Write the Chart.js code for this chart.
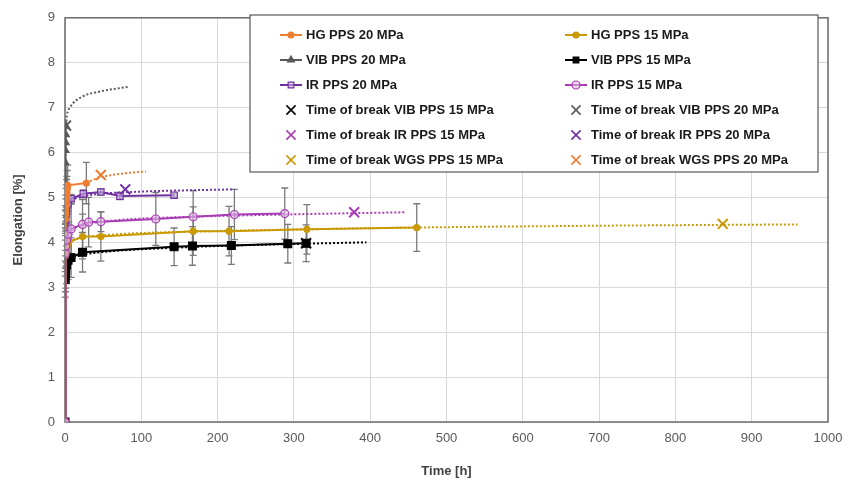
<!DOCTYPE html>
<html>
<head>
<meta charset="utf-8">
<script src="https://cdn.jsdelivr.net/npm/chart.js@4.4.1/dist/chart.umd.min.js"></script>
<style>
  html, body { margin: 0; padding: 0; background: #fff; }
  #wrap { width: 858px; height: 480px; }
</style>
</head>
<body>
<div id="wrap"><canvas id="chart" width="858" height="480"></canvas></div>
<script>
// Elongation over time, PPS creep tests

// HG PPS 20 MPa
const hg20Time = [0, 0.5, 0.7, 1, 1.2, 1.5, 1.8, 2.2, 2.6, 3, 3.5, 28];
const hg20Elong = [0, 4.52, 4.62, 4.72, 4.8, 4.9, 4.98, 5.05, 5.12, 5.2, 5.27, 5.32];
const hg20Err = [0, 0.2, 0.2, 0.25, 0.25, 0.3, 0.3, 0.35, 0.35, 0.4, 0.45, 0.46];

// HG PPS 15 MPa
const hg15Time = [0, 0.5, 1, 2, 3, 5, 23, 47, 168, 215, 317, 461];
const hg15Elong = [0, 3.7, 3.8, 3.88, 3.94, 4.0, 4.13, 4.13, 4.25, 4.25, 4.29, 4.33];
const hg15Err = [0, 0.35, 0.35, 0.4, 0.4, 0.45, 0.5, 0.55, 0.54, 0.55, 0.55, 0.53];

// VIB PPS 20 MPa
const vib20Time = [0, 0.3, 0.6, 0.9, 1.1, 1.3];
const vib20Elong = [0, 5.78, 6.05, 6.22, 6.4, 6.59];
const vib20Err = [0, 0, 0, 0, 0, 0];

// VIB PPS 15 MPa
const vib15Time = [0, 0.3, 0.6, 1, 2, 4, 8, 23, 143, 167, 218, 292, 316];
const vib15Elong = [0, 3.18, 3.3, 3.4, 3.5, 3.6, 3.66, 3.78, 3.9, 3.92, 3.93, 3.97, 3.98];
const vib15Err = [0, 0.4, 0.4, 0.42, 0.42, 0.43, 0.44, 0.44, 0.42, 0.43, 0.42, 0.43, 0.41];

// IR PPS 20 MPa
const ir20Time = [0, 0.5, 1, 2, 4, 8, 24, 47, 72, 143];
const ir20Elong = [0, 4.3, 4.5, 4.68, 4.86, 4.97, 5.08, 5.12, 5.03, 5.05];
const ir20Err = [0, 0.1, 0.1, 0.1, 0.1, 0.1, 0.09, 0.07, 0.08, 0.05];

// IR PPS 15 MPa
const ir15Time = [0, 0.5, 1, 2, 4, 8, 23, 31, 47, 119, 168, 222, 288];
const ir15Elong = [0, 3.75, 3.92, 4.05, 4.18, 4.3, 4.4, 4.45, 4.46, 4.52, 4.57, 4.62, 4.64];
const ir15Err = [0, 0.5, 0.5, 0.5, 0.52, 0.55, 0.55, 0.55, 0.22, 0.59, 0.58, 0.56, 0.57];

// dotted trend lines
const hg20TrendTime = [28, 47, 75, 106];
const hg20TrendElong = [5.33, 5.45, 5.53, 5.58];
const hg15TrendTime = [0.5, 2, 8, 23, 60, 168, 317, 461, 700, 960];
const hg15TrendElong = [3.75, 3.9, 4.02, 4.1, 4.17, 4.24, 4.29, 4.33, 4.37, 4.4];
const vib20TrendTime = [1.3, 2.5, 6.5, 20, 46, 82];
const vib20TrendElong = [6.6, 6.82, 7.0, 7.22, 7.36, 7.46];
const vib15TrendTime = [0.5, 2, 8, 23, 60, 143, 220, 316, 395];
const vib15TrendElong = [3.2, 3.45, 3.62, 3.72, 3.8, 3.88, 3.93, 3.97, 4.0];
const ir20TrendTime = [1, 3, 8, 23, 47, 100, 222];
const ir20TrendElong = [4.5, 4.75, 4.9, 5.02, 5.08, 5.13, 5.18];
const ir15TrendTime = [0.5, 2, 8, 23, 60, 168, 288, 446];
const ir15TrendElong = [3.6, 4.0, 4.25, 4.38, 4.48, 4.57, 4.62, 4.67];

// time of break [h, %]
const breakVib15 = [316, 3.98];
const breakVib20 = [1.3, 6.6];
const breakIr15 = [379, 4.67];
const breakIr20 = [79, 5.18];
const breakWgs15 = [862, 4.41];
const breakWgs20 = [47, 5.5];

// legend, two columns, row by row
const legendOrder = [
  'HG PPS 20 MPa', 'HG PPS 15 MPa',
  'VIB PPS 20 MPa', 'VIB PPS 15 MPa',
  'IR PPS 20 MPa', 'IR PPS 15 MPa',
  'Time of break VIB PPS 15 MPa', 'Time of break VIB PPS 20 MPa',
  'Time of break IR PPS 15 MPa', 'Time of break IR PPS 20 MPa',
  'Time of break WGS PPS 15 MPa', 'Time of break WGS PPS 20 MPa'
];

const C_ORANGE = '#ED7D31';
const C_GOLD = '#C99A06';
const C_GRAY = '#595959';
const C_BLACK = '#000000';
const C_PURPLE = '#7030A0';
const C_MAGENTA = '#A83DB5';

const FONT = 'Liberation Sans, Arial, sans-serif';

const toPoints = (xs, ys) => xs.map((x, i) => ({ x, y: ys[i] }));

function series(label, xs, ys, errs, color, style, radius, fill, order) {
  return {
    label,
    data: toPoints(xs, ys),
    errors: errs,
    showLine: true,
    borderColor: color,
    backgroundColor: fill || color,
    borderWidth: 2,
    pointStyle: style,
    pointRadius: radius,
    pointBorderColor: color,
    pointBackgroundColor: fill || color,
    pointBorderWidth: 1.2,
    tension: 0,
    order: order || 2
  };
}

function trend(xs, ys, color) {
  return {
    label: '',
    data: toPoints(xs, ys),
    showLine: true,
    borderColor: color,
    borderWidth: 2,
    borderDash: [2, 2],
    pointRadius: 0,
    cubicInterpolationMode: 'monotone',
    order: 5
  };
}

function breakPoint(label, pt, color) {
  return {
    label,
    data: [{ x: pt[0], y: pt[1] }],
    showLine: false,
    pointStyle: 'crossRot',
    pointRadius: 7,
    pointBorderWidth: 2,
    pointBorderColor: color,
    borderColor: color,
    backgroundColor: color,
    order: 0
  };
}

const datasets = [
  series('HG PPS 20 MPa', hg20Time, hg20Elong, hg20Err, C_ORANGE, 'circle', 3),
  series('HG PPS 15 MPa', hg15Time, hg15Elong, hg15Err, C_GOLD, 'circle', 3),
  series('VIB PPS 20 MPa', vib20Time, vib20Elong, vib20Err, C_GRAY, 'triangle', 4),
  series('VIB PPS 15 MPa', vib15Time, vib15Elong, vib15Err, C_BLACK, 'rect', 5.5),
  series('IR PPS 20 MPa', ir20Time, ir20Elong, ir20Err, C_PURPLE, 'rect', 4.5, 'rgba(200,180,225,0.6)'),
  series('IR PPS 15 MPa', ir15Time, ir15Elong, ir15Err, C_MAGENTA, 'circle', 4, 'rgba(225,190,230,0.6)', 1),
  trend(hg20TrendTime, hg20TrendElong, C_ORANGE),
  trend(hg15TrendTime, hg15TrendElong, C_GOLD),
  trend(vib20TrendTime, vib20TrendElong, C_GRAY),
  trend(vib15TrendTime, vib15TrendElong, C_BLACK),
  trend(ir20TrendTime, ir20TrendElong, C_PURPLE),
  trend(ir15TrendTime, ir15TrendElong, C_MAGENTA),
  breakPoint('Time of break VIB PPS 15 MPa', breakVib15, C_BLACK),
  breakPoint('Time of break VIB PPS 20 MPa', breakVib20, C_GRAY),
  breakPoint('Time of break IR PPS 15 MPa', breakIr15, C_MAGENTA),
  breakPoint('Time of break IR PPS 20 MPa', breakIr20, C_PURPLE),
  breakPoint('Time of break WGS PPS 15 MPa', breakWgs15, C_GOLD),
  breakPoint('Time of break WGS PPS 20 MPa', breakWgs20, C_ORANGE)
];

// simple marker painter for the legend
function drawMarker(ctx, style, r, x, y, stroke, fill, lw) {
  ctx.save();
  ctx.strokeStyle = stroke;
  ctx.fillStyle = fill;
  ctx.lineWidth = lw;
  ctx.beginPath();
  if (style === 'circle') {
    ctx.arc(x, y, r, 0, Math.PI * 2);
    ctx.fill(); ctx.stroke();
  } else if (style === 'rect') {
    const s = r * Math.SQRT1_2;
    ctx.rect(x - s, y - s, 2 * s, 2 * s);
    ctx.fill(); ctx.stroke();
  } else if (style === 'triangle') {
    ctx.moveTo(x, y - r);
    ctx.lineTo(x + r * 0.87, y + r * 0.5);
    ctx.lineTo(x - r * 0.87, y + r * 0.5);
    ctx.closePath();
    ctx.fill(); ctx.stroke();
  } else if (style === 'crossRot') {
    const d = r * Math.SQRT1_2;
    ctx.moveTo(x - d, y - d); ctx.lineTo(x + d, y + d);
    ctx.moveTo(x - d, y + d); ctx.lineTo(x + d, y - d);
    ctx.stroke();
  }
  ctx.restore();
}

// plot frame + error bars, under the data
const framePlugin = {
  id: 'frame',
  beforeDatasetsDraw(chart) {
    const { ctx, chartArea: a, scales: { x, y } } = chart;
    ctx.save();
    ctx.strokeStyle = '#6b6b6b';
    ctx.lineWidth = 1.5;
    ctx.strokeRect(a.left, a.top, a.right - a.left, a.bottom - a.top);

    ctx.strokeStyle = '#7a7a7a';
    ctx.lineWidth = 1.3;
    chart.data.datasets.forEach(ds => {
      if (!ds.errors) return;
      ds.data.forEach((p, i) => {
        const e = ds.errors[i];
        if (!e) return;
        const px = x.getPixelForValue(p.x);
        const top = y.getPixelForValue(p.y + e);
        const bot = y.getPixelForValue(p.y - e);
        ctx.beginPath();
        ctx.moveTo(px, top); ctx.lineTo(px, bot);
        ctx.moveTo(px - 3.5, top); ctx.lineTo(px + 3.5, top);
        ctx.moveTo(px - 3.5, bot); ctx.lineTo(px + 3.5, bot);
        ctx.stroke();
      });
    });
    ctx.restore();
  }
};

// boxed two-column legend inside the plot
const boxLegendPlugin = {
  id: 'boxLegend',
  afterDraw(chart) {
    const ctx = chart.ctx;
    const box = { left: 250, top: 15, right: 818, bottom: 172 };
    ctx.save();
    ctx.fillStyle = '#ffffff';
    ctx.fillRect(box.left, box.top, box.right - box.left, box.bottom - box.top);
    ctx.strokeStyle = '#595959';
    ctx.lineWidth = 1.2;
    ctx.strokeRect(box.left, box.top, box.right - box.left, box.bottom - box.top);

    ctx.font = 'bold 13px ' + FONT;
    ctx.textBaseline = 'middle';

    legendOrder.forEach((label, i) => {
      const ds = chart.data.datasets.find(d => d.label === label);
      if (!ds) return;
      const col = i % 2;
      const row = Math.floor(i / 2);
      const x0 = col === 0 ? 280 : 565;
      const y0 = 35 + row * 25;
      const mid = x0 + 11;
      if (ds.showLine) {
        ctx.strokeStyle = ds.borderColor;
        ctx.lineWidth = 2;
        ctx.beginPath();
        ctx.moveTo(x0, y0); ctx.lineTo(x0 + 22, y0);
        ctx.stroke();
        drawMarker(ctx, ds.pointStyle, Math.min(ds.pointRadius, 4), mid, y0,
          ds.pointBorderColor, ds.pointBackgroundColor, 1.2);
      } else {
        drawMarker(ctx, 'crossRot', 6.5, mid, y0, ds.pointBorderColor, ds.pointBorderColor, 1.6);
      }
      ctx.fillStyle = '#1a1a1a';
      ctx.fillText(label, x0 + 26, y0 + 0.5);
    });
    ctx.restore();
  }
};

new Chart(document.getElementById('chart'), {
  type: 'scatter',
  data: { datasets },
  options: {
    responsive: false,
    animation: false,
    events: [],
    layout: { padding: { left: 0, right: 30, top: 13, bottom: 0 } },
    plugins: {
      legend: { display: false },
      tooltip: { enabled: false }
    },
    scales: {
      x: {
        type: 'linear',
        min: 0,
        max: 1000,
        afterFit: (s) => { s.height = 58; },
        grid: { color: '#d9d9d9', lineWidth: 1, drawTicks: false },
        border: { display: false },
        ticks: {
          stepSize: 100,
          padding: 9,
          maxRotation: 0,
          color: '#595959',
          font: { family: FONT, size: 13 },
          callback: (v) => String(v)
        },
        title: {
          display: true,
          text: 'Time [h]',
          color: '#404040',
          font: { family: FONT, size: 13, weight: 'bold' },
          padding: { top: 0, bottom: 1 }
        }
      },
      y: {
        type: 'linear',
        min: 0,
        max: 9,
        afterFit: (s) => { s.width = 65; },
        grid: { color: '#d9d9d9', lineWidth: 1, drawTicks: false },
        border: { display: false },
        ticks: {
          stepSize: 1,
          padding: 10,
          color: '#595959',
          font: { family: FONT, size: 13 }
        },
        title: {
          display: true,
          text: 'Elongation [%]',
          color: '#404040',
          font: { family: FONT, size: 13, weight: 'bold' },
          padding: { top: 11, bottom: 0 }
        }
      }
    }
  },
  plugins: [framePlugin, boxLegendPlugin]
});
</script>
</body>
</html>
